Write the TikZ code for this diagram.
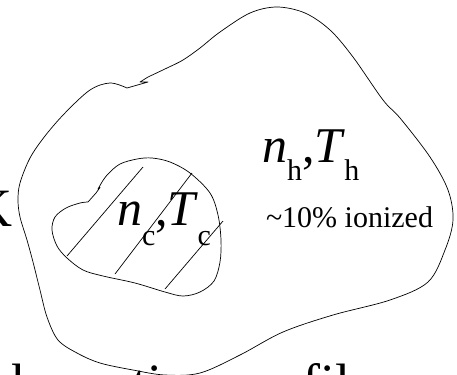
\documentclass[tikz,border=0pt]{standalone}
\usepackage{fontspec}
\setmainfont{Liberation Serif}
\newcommand\myBig{\fontsize{50bp}{60bp}\selectfont}
\newcommand\mySub{\fontsize{30bp}{36bp}\selectfont}
\newcommand\mySmall{\fontsize{30bp}{36bp}\selectfont}
\newcommand\myHuge{\fontsize{54bp}{64bp}\selectfont}
\tikzset{
  blob/.style={draw=black, line width=0.7bp, line join=round},
  hatch/.style={draw=black, line width=0.7bp},
  lbl/.style={inner sep=0pt, outer sep=0pt, anchor=base west}
}
\begin{document}
\begin{tikzpicture}[x=1bp, y=-1bp]
\useasboundingbox (0,0) rectangle (457,374);
\clip (0,0) rectangle (457,374);
% outer region
\draw[blob] plot[smooth, tension=0.55] coordinates {
  (127,88) (110,83) (90,90) (65,113) (45,136) (30,158) (20,183) (18,200)
  (20,217) (27,240) (33,262) (40,290) (47,317) (58,340) (77,353) (100,363)
  (133,370) (165,375) (200,373) (240,355) (283,332) (333,315) (390,300)
  (428,282) (445,250) (453,220) (448,190) (430,157) (400,118) (383,100)
  (353,57) (330,30) (305,13) (277,7) (250,13) (220,32) (200,48) (183,60)
  (167,68) (148,77)}
  -- (140,82) -- (148,82) -- cycle;
% inner region
\draw[blob] plot[smooth, tension=0.55] coordinates {
  (102,182) (108,174) (120,164) (137,159) (152,158) (170,162) (190,173)
  (210,193) (218,215) (221,240) (220,262) (214,281) (200,292) (183,296)
  (165,292) (135,283) (103,276) (83,270) (67,258) (57,246) (52,230)
  (55,217) (66,208) (80,203) (88,202)}
  -- (96,193) -- (100,187.5) -- (98,189) -- cycle;
% hatching
\draw[hatch] (67,256) -- (143,167);
\draw[hatch] (115,274) -- (192,173);
\draw[hatch] (165,289) -- (223,221);
% labels
\node[lbl] (nc) at (117,225) {{\myBig\itshape n}\raisebox{-20bp}{\mySub c}{\myBig ,\itshape T}\kern2bp\raisebox{-20bp}{\mySub c}};
\node[lbl] (nh) at (262,162) {{\myBig\itshape n}\raisebox{-18bp}{\mySub h}{\myBig ,\itshape T}\kern2bp\raisebox{-18bp}{\mySub h}};
\node[lbl] (ion) at (266,227) {\mySmall\textasciitilde10\% ionized};
\node[inner sep=0pt, outer sep=0pt, anchor=base east] (k) at (12,226) {\myHuge K};
\node[lbl] (abs) at (-11,401) {\myHuge absorption profiles};
\end{tikzpicture}
\end{document}
